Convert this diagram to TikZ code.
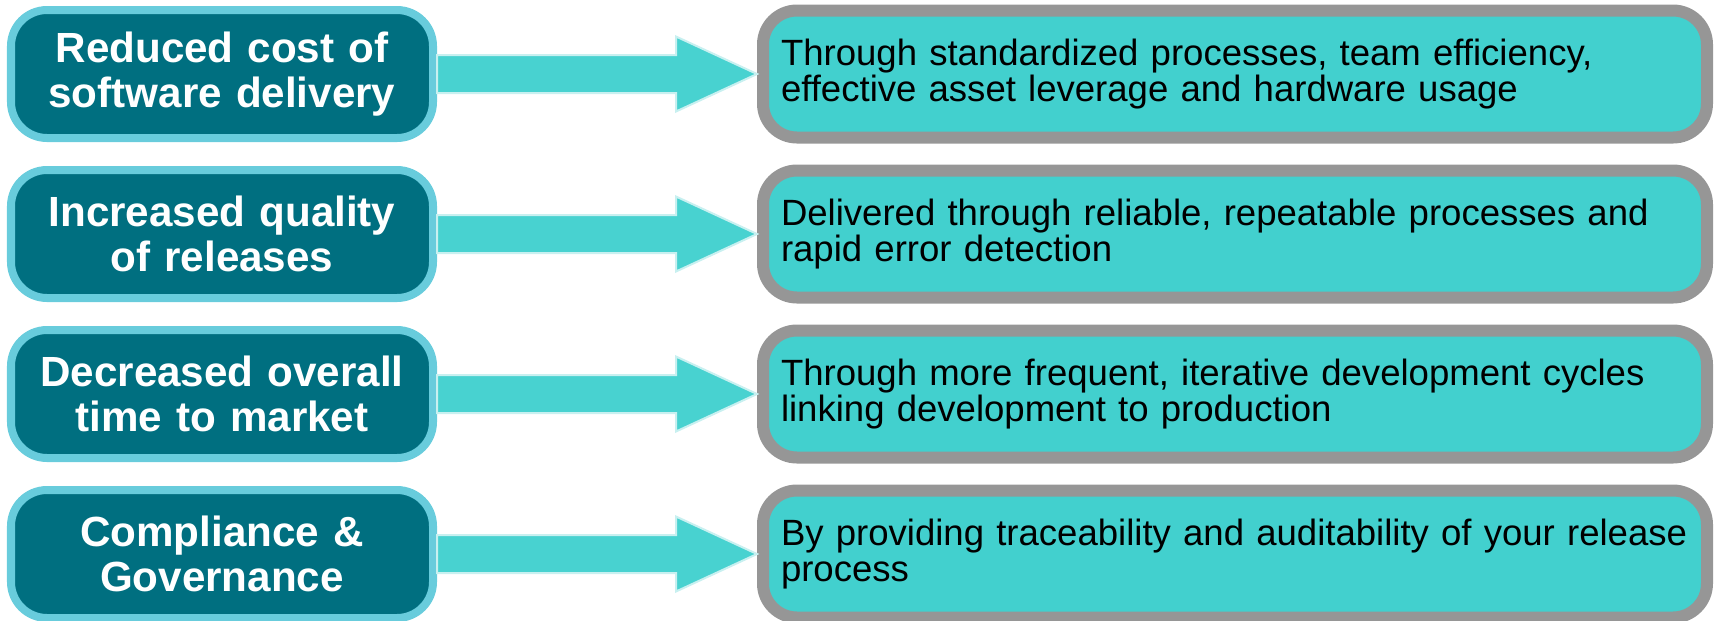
\documentclass[tikz,border=0pt]{standalone}
\usepackage{fontspec}
\setmainfont{Liberation Sans}
\usetikzlibrary{calc}
\usetikzlibrary{positioning}
\definecolor{benefitfill}{RGB}{0,111,128}
\definecolor{benefitedge}{RGB}{104,204,220}
\definecolor{reasonfill}{RGB}{66,208,206}
\definecolor{reasonedge}{RGB}{150,150,150}
\definecolor{pushfill}{RGB}{72,210,208}
\definecolor{pushedge}{RGB}{200,240,240}
\newcommand{\pushgap}{3.2cm}
\tikzstyle{benefit}=[
  draw=benefitedge,
  line width=0.08cm,
  fill=benefitfill,
  rounded corners=0.36cm,
  minimum width=4.22cm,
  minimum height=1.28cm,
  text width=4.1cm,
  inner sep=0pt,
  align=center,
  text=white,
  font=\bfseries\fontsize{12}{12.8}\selectfont
]
\tikzstyle{reason}=[
  draw=reasonedge,
  line width=0.12cm,
  fill=reasonfill,
  rounded corners=0.34cm,
  minimum width=9.44cm,
  minimum height=1.27cm,
  text width=9.08cm,
  inner xsep=0.18cm,
  align=left,
  font=\fontsize{10.4}{10.5}\selectfont
]
\tikzstyle{push}=[
  draw=pushedge,
  line width=0.02cm,
  fill=pushfill
]
\newcommand{\drawpush}[2]{
  \draw[push] ($(#1.east) + (0, 0.19)$)
           -- ($(#2.west) + (-0.81, 0.19)$)
           -- ($(#2.west) + (-0.81, 0.375)$)
           -- (#2.west)
           -- ($(#2.west) + (-0.81, -0.375)$)
           -- ($(#2.west) + (-0.81, -0.19)$)
           -- ($(#1.east) + (0, -0.19)$) -- cycle;
}

\begin{document}
\begin{tikzpicture}
      \useasboundingbox (0, 0) rectangle (17.19, -6.20);

      \node[benefit] (cost)       at (2.22, -0.74) {Reduced cost of\\software delivery};
      \node[benefit] (quality)    at (2.22, -2.34) {Increased quality\\of releases};
      \node[benefit] (market)     at (2.22, -3.94) {Decreased overall\\time to market};
      \node[benefit] (compliance) at (2.22, -5.54) {Compliance \&\\Governance};

      \node[reason, right=\pushgap of cost]       (costwhy)       {Through standardized processes, team efficiency,\\effective asset leverage and hardware usage};
      \node[reason, right=\pushgap of quality]    (qualitywhy)    {Delivered through reliable, repeatable processes and\\rapid error detection};
      \node[reason, right=\pushgap of market]     (marketwhy)     {Through more frequent, iterative development cycles\\linking development to production};
      \node[reason, right=\pushgap of compliance] (compliancewhy) {By providing traceability and auditability of your release\\process};

      \drawpush{cost}{costwhy}
      \drawpush{quality}{qualitywhy}
      \drawpush{market}{marketwhy}
      \drawpush{compliance}{compliancewhy}
    \end{tikzpicture}
\end{document}
